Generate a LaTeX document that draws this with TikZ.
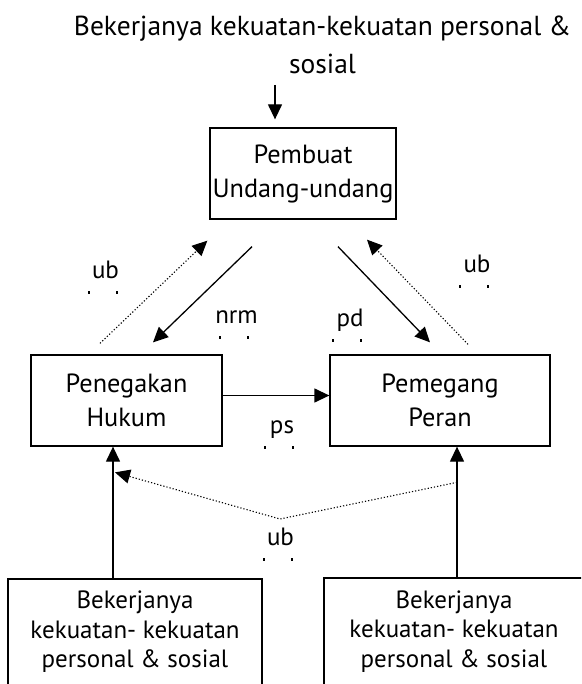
\documentclass[tikz,border=0pt]{standalone}
\usepackage{fontspec}
\setmainfont{PT Sans}
\usetikzlibrary{calc,arrows.meta}

\tikzset{
  kotak/.style={draw,line width=1.3pt,align=center,inner sep=0pt,font=\fontsize{26.3}{34}\selectfont},
  kotakbawah/.style={kotak,font=\fontsize{25}{29.5}\selectfont},
  panah/.style={line width=1.3pt,-{Triangle[length=15pt,width=14pt]}},
  titik/.style={line width=1.1pt,dash pattern=on 1.2pt off 2pt,-{Triangle[length=15pt,width=14pt]}},
  kode/.style={inner sep=0pt,font=\fontsize{25}{28}\selectfont},
}
\newcommand\kode[3]{%
  \node[kode,anchor=base] (#1) at (#2) {#3};
  \fill ([xshift=-18pt,yshift=-13pt]#1.base) rectangle +(2pt,-2.6pt);
  \fill ([xshift=10pt,yshift=-13pt]#1.base) rectangle +(2pt,-2.6pt);}

\begin{document}
\begin{tikzpicture}[x=1pt,y=-1pt]
\useasboundingbox (0,0) rectangle (581,684);
\clip (0,0) rectangle (581,684);
\node[align=center,font=\fontsize{27.5}{38}\selectfont] (judul) at (322.5,45) {Bekerjanya kekuatan-kekuatan personal \&\\sosial};
\node[kotak,minimum width=186pt,minimum height=91pt] (pembuat) at (303,173.5) {Pembuat\\Undang-undang};
\node[kotak,minimum width=191pt,minimum height=91pt] (penegak) at (126.5,400.5) {Penegakan\\Hukum};
\node[kotak,minimum width=220pt,minimum height=91pt] (pemegang) at (440,400.5) {Pemegang\\Peran};
\node[kotakbawah,minimum width=254pt,minimum height=106pt] (kiri) at (135,632) {Bekerjanya\\kekuatan- kekuatan\\personal \& sosial};
\node[kotakbawah,minimum width=260pt,minimum height=107pt] (kanan) at (454,631.5) {Bekerjanya\\kekuatan- kekuatan\\personal \& sosial};

\coordinate (masuk) at (275,85);
\draw[panah] (masuk) -- ($(pembuat.north -| masuk)+(0,-8)$);

\draw[titik] ($(penegak.north)+(-26.5,-11)$) -- ($(pembuat.south west)+(-2,21)$);
\draw[panah] ($(pembuat.south)+(-51,27)$) -- ($(penegak.north)+(26.5,-12)$);
\draw[panah] ($(pembuat.south)+(35,27)$) -- ($(pemegang.north)+(-10,-12)$);
\draw[titik] ($(pemegang.north)+(28,-10)$) -- ($(pembuat.south)+(64,20)$);

\draw[panah] ([yshift=5pt]penegak.east) -- ([yshift=5pt]pemegang.west);

\draw[panah] ($(kiri.north)+(-22,0)$) -- ($(penegak.south)+(-13.5,0)$);
\draw[panah] ($(kanan.north)+(3,0)$) -- ($(pemegang.south)+(17,0)$);
\coordinate (lembah) at (280,519);
\draw[titik] ($(kanan.north)+(3,-95)$) -- (lembah) -- ($(kiri.north)+(-20,-106)$);

\kode{ubkiri}{105.5,278}{ub}
\kode{nrm}{236.5,323}{nrm}
\kode{pd}{350,326}{pd}
\kode{ubkanan}{477,272}{ub}
\kode{ps}{282,433}{ps}
\kode{ubtengah}{280.5,545}{ub}
\end{tikzpicture}
\end{document}
